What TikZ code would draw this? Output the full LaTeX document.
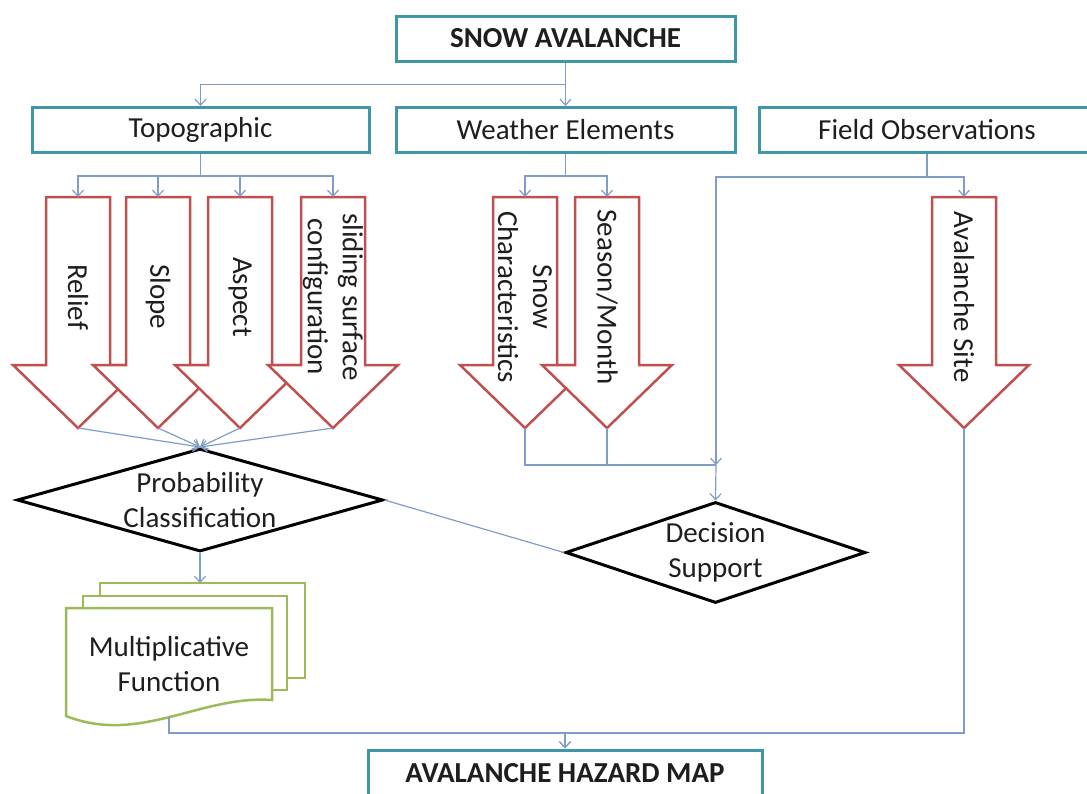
\documentclass[tikz,border=0pt]{standalone}
\usepackage{fontspec}
\setmainfont{Carlito}
\usepackage{tikz}
\usetikzlibrary{shapes.geometric,arrows.meta}

\definecolor{boxteal}{RGB}{62,150,168}
\definecolor{arrowred}{RGB}{192,80,77}
\definecolor{linkblue}{RGB}{128,156,200}
\definecolor{docgreen}{RGB}{155,187,89}
\definecolor{textgrey}{RGB}{30,30,30}

\begin{document}
\begin{tikzpicture}[x=1pt, y=-1pt,
    font=\fontsize{29}{35}\selectfont, text=textgrey,
    >={Straight Barb[length=6pt,width=11pt]},
    headbox/.style={draw=boxteal, line width=3pt, fill=white, minimum height=45pt, inner sep=0pt},
    blockarrow/.style={draw=arrowred, line width=2.5pt, fill=white, line join=miter},
    decision/.style={diamond, draw=black, line width=3pt, inner sep=0pt},
    conn/.style={draw=linkblue, line width=1.2pt}]
    % Fix the frame
    \clip (0,0) rectangle (1087,793);

    % Draw the heading boxes
    \node[headbox, minimum width=339pt] (snow) at (565.5,38.5) {\textbf{SNOW AVALANCHE}};
    \node[headbox, minimum width=337pt] (topo) at (200.5,130) {Topographic};
    \node[headbox, minimum width=339pt] (weather) at (565.5,130) {Weather Elements};
    \node[headbox, minimum width=336pt] (field) at (927,130) {Field Observations};
    \node[headbox, minimum width=394pt, minimum height=47pt] (hazard) at (565,773.5) {\textbf{AVALANCHE HAZARD MAP}};

    % Draw the block arrows
    \foreach \name/\cx/\lbl in {relief/78/Relief, slope/158/Slope, aspect/240/Aspect,
        sliding/333/sliding surface\\configuration, snowc/525/Snow\\Characteristics,
        season/607/Season\slash Month, site/964/Avalanche Site} {
      \draw[blockarrow] (\cx-32,197) -- (\cx+32,197) -- (\cx+32,365) -- (\cx+65,365)
        -- (\cx,428) -- (\cx-65,365) -- (\cx-32,365) -- cycle;
      \node[rotate=-90, align=center] (\name) at (\cx,297) {\lbl};
      \coordinate (\name-top) at (\cx,197);
      \coordinate (\name-tip) at (\cx,428);
    }

    % Draw the diamonds
    \node[decision, minimum width=366pt, minimum height=103pt] (prob) at (200,500) {};
    \node[align=center] (probtext) at (prob) {Probability\\Classification};
    \node[decision, minimum width=300pt, minimum height=101pt] (deci) at (715.5,552.5) {};
    \node[align=center] (decitext) at (deci) {Decision\\Support};

    % Draw the stacked documents
    \draw[docgreen, line width=2.5pt, fill=white] (100,583) rectangle (305,678);
    \draw[docgreen, line width=2.5pt, fill=white] (83,596) rectangle (287,690);
    \draw[docgreen, line width=2.5pt, fill=white] (66,608) -- (272,608) -- (272,700)
        .. controls (200,695) and (140,745) .. (66,716) -- cycle;
    \node[align=center] (mult) at (169,664) {Multiplicative\\Function};
    \coordinate (mult-top) at (200,583);
    \coordinate (mult-bottom) at (169,717);

    % Connect the top level
    \draw[conn,->] (snow.south) -- (weather.north);
    \draw[conn,->] (snow.south) -- ++(0,22) -| (topo.north);

    % Connect the factors
    \foreach \name in {relief, slope, aspect, sliding}
      \draw[conn,->] (topo.south) -- ++(0,22) -| (\name-top);
    \foreach \name in {snowc, season}
      \draw[conn,->] (weather.south) -- ++(0,22) -| (\name-top);
    \draw[conn,->] (field.south) -- ++(0,23) -| (site-top);

    % Connect to probability classification
    \foreach \name in {relief, slope, aspect, sliding}
      \draw[conn,->] (\name-tip) -- (prob.north);

    % Connect to decision support
    \coordinate (merge) at (716,465);
    \draw[conn,->] (field.south) -- ++(0,23) -| (merge);
    \draw[conn] (snowc-tip) |- (merge);
    \draw[conn] (season-tip) -- (season-tip |- merge);
    \draw[conn,->] (merge) -- (deci.north);
    \draw[conn] (prob.east) -- (deci.west);

    % Connect to the hazard map
    \coordinate (join) at (565,733);
    \draw[conn,->] (prob.south) -- (mult-top);
    \draw[conn,->] (mult-bottom) |- (join) -- (hazard.north);
    \draw[conn,->] (site-tip) |- (join) -- (hazard.north);
\end{tikzpicture}
\end{document}
